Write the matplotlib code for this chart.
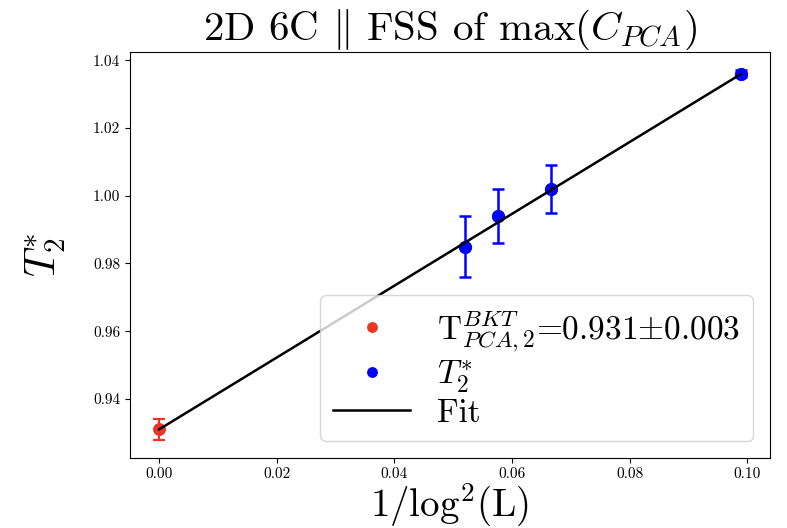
import numpy as np
import matplotlib
matplotlib.use("Agg")
import matplotlib.pyplot as plt

plt.rcParams["font.family"] = "serif"
plt.rcParams["font.serif"] = ["cmr10"]
plt.rcParams["mathtext.fontset"] = "cm"
plt.rcParams["axes.formatter.use_mathtext"] = True
plt.rcParams["axes.unicode_minus"] = False

# Extrapolated BKT temperature at 1/log^2(L) = 0
x_bkt = [0.0]
t_bkt = [0.931]
t_bkt_err = [0.003]

# Pseudo-critical temperatures for finite lattices
x_sizes = [0.0520, 0.0576, 0.0666, 0.0989]
t_star = [0.985, 0.994, 1.002, 1.036]
t_star_err = [0.009, 0.008, 0.007, 0.001]

# Linear fit parameters
fit_intercept = 0.931
fit_slope = 1.061

fig = plt.figure(figsize=(7.87, 5.28), dpi=100)
ax = fig.add_axes([130 / 787, 1 - 458 / 528, 640 / 787, 406 / 528])

red = "#ea3526"
blue = "#0000ff"

ax.errorbar(x_bkt, t_bkt, yerr=t_bkt_err, fmt="o", color=red, ms=8,
            capsize=4.5, elinewidth=1.6, capthick=1.6)
ax.errorbar(x_sizes, t_star, yerr=t_star_err, fmt="o", color=blue, ms=8.5,
            capsize=4.5, elinewidth=1.8, capthick=1.8)

ax.plot(x_bkt, t_bkt, "o", color=red, ms=8,
        label=r"T$^{BKT}_{PCA,2}$=0.931$\pm$0.003")
ax.plot(x_sizes, t_star, "o", color=blue, ms=8, label=r"$T^{*}_{2}$")

xf = np.array([x_bkt[0], max(x_sizes)])
ax.plot(xf, fit_intercept + fit_slope * xf, color="black", lw=1.8,
        label="Fit", zorder=3)

ax.set_title(r"2D 6C $\Vert$ FSS of max($C_{PCA}$)", fontsize=29.5, pad=6)
ax.set_xlabel(r"1/log$^2$(L)", fontsize=28, labelpad=0)
ax.set_ylabel(r"$T^{*}_{2}$", fontsize=30, labelpad=18)
ax.tick_params(labelsize=11)
ax.set_xticks([0.0, 0.02, 0.04, 0.06, 0.08, 0.10])
ax.set_xticklabels(["0.00", "0.02", "0.04", "0.06", "0.08", "0.10"])
ax.set_yticks([0.94, 0.96, 0.98, 1.00, 1.02, 1.04])
ax.set_yticklabels(["0.94", "0.96", "0.98", "1.00", "1.02", "1.04"])

ax.legend(loc="lower right", fontsize=24, markerscale=0.85, handlelength=2.3,
          labelspacing=0.12, borderpad=0.4, borderaxespad=0.5,
          handletextpad=0.8)

fig.savefig("out.png", dpi=100)
